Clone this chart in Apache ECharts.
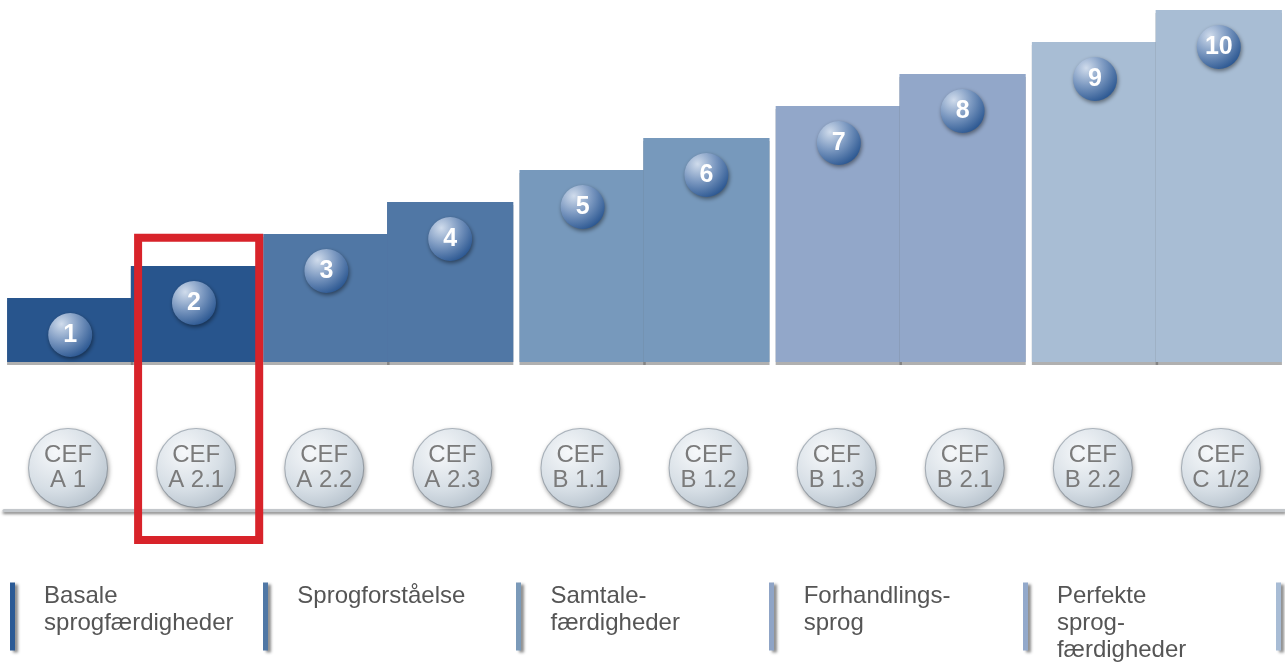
<!DOCTYPE html>
<html>
<head>
<meta charset="utf-8">
<script src="https://cdn.jsdelivr.net/npm/echarts@6/dist/echarts.min.js"></script>
<style>
  html, body { margin: 0; padding: 0; background: #ffffff; }
  #chart { width: 1285px; height: 662px; }
</style>
</head>
<body>
<div id="chart"></div>
<script>
// ---- data ----
const groupLabels = [
  'Basale\nsprogfærdigheder',
  'Sprogforståelse',
  'Samtale-\nfærdigheder',
  'Forhandlings-\nsprog',
  'Perfekte\nsprog-\nfærdigheder'
];
const levelNumbers = ['1', '2', '3', '4', '5', '6', '7', '8', '9', '10'];
const levelHeights = [2, 3, 4, 5, 6, 7, 8, 9, 10, 11];
const cefLabels = ['A 1', 'A 2.1', 'A 2.2', 'A 2.3', 'B 1.1', 'B 1.2', 'B 1.3', 'B 2.1', 'B 2.2', 'C 1/2'];
const highlightLevel = ['A 2.1', 3.88, -5.56]; // [CEF level, upper value, lower value]
const pairColors = ['#28558d', '#5077a5', '#7799bc', '#92a7c9', '#a8bdd4'];

// ---- build series data ----
const firstOfPair = [], secondOfPair = [];
levelHeights.forEach((v, i) => {
  const item = { value: v, itemStyle: { color: pairColors[Math.floor(i / 2)] } };
  (i % 2 === 0 ? firstOfPair : secondOfPair).push(item);
});

const numberCircle = {
  type: 'radial', x: 0.3, y: 0.25, r: 0.9,
  colorStops: [
    { offset: 0, color: '#d0dcec' },
    { offset: 0.45, color: '#7c99c1' },
    { offset: 1, color: '#1b4a88' }
  ]
};
const cefCircle = {
  type: 'radial', x: 0.35, y: 0.3, r: 0.8,
  colorStops: [
    { offset: 0, color: '#f6f8fa' },
    { offset: 0.6, color: '#d6dee5' },
    { offset: 1, color: '#b3bfca' }
  ]
};

function barLabel(offsetIdx) {
  return {
    show: true,
    position: 'insideTop',
    distance: 15,
    formatter: p => levelNumbers[p.dataIndex * 2 + offsetIdx],
    width: 44, height: 44, lineHeight: 44,
    borderRadius: 22,
    backgroundColor: numberCircle,
    shadowColor: 'rgba(0,0,0,0.45)', shadowBlur: 4, shadowOffsetY: 2, shadowOffsetX: 1,
    color: '#ffffff',
    fontFamily: 'Liberation Sans, Arial, sans-serif',
    fontWeight: 'bold',
    fontSize: 25,
    align: 'center'
  };
}

const barItemStyle = {
  shadowColor: 'rgba(80,80,80,0.45)', shadowBlur: 0, shadowOffsetY: 3, shadowOffsetX: 0
};

const chart = echarts.init(document.getElementById('chart'), null, { renderer: 'canvas' });
chart.setOption({
  backgroundColor: '#ffffff',
  animation: false,
  grid: [
    { left: 4, right: 0, top: 10, bottom: 300 },
    { left: 12, right: 7, top: 400, bottom: 76 }
  ],
  xAxis: [
    { type: 'category', gridIndex: 0, position: 'bottom', data: groupLabels, show: false },
    {
      type: 'category', gridIndex: 0, position: 'bottom', offset: 148, data: cefLabels,
      axisLine: {
        show: true,
        lineStyle: { color: '#c3c7cb', width: 3, shadowColor: 'rgba(0,0,0,0.5)', shadowBlur: 3, shadowOffsetY: 2 }
      },
      axisTick: { show: false },
      splitLine: { show: false },
      axisLabel: {
        show: true, inside: true, margin: 3, interval: 0,
        formatter: v => 'CEF\n' + v,
        width: 78, padding: [14, 0, 14, 0], lineHeight: 25,
        borderRadius: 39,
        backgroundColor: cefCircle,
        borderColor: '#b0b9c2', borderWidth: 1,
        shadowColor: 'rgba(0,0,0,0.3)', shadowBlur: 4, shadowOffsetY: 2, shadowOffsetX: 1,
        color: '#7b7b7b',
        fontFamily: 'Liberation Sans Narrow, Arial Narrow, Liberation Sans, sans-serif',
        fontSize: 24,
        align: 'center'
      }
    },
    {
      type: 'category', gridIndex: 1, position: 'bottom', data: groupLabels,
      axisLine: { show: false },
      axisTick: {
        show: true, length: 68, interval: 0,
        lineStyle: {
          width: 5,
          color: {
            type: 'linear', x: 0, y: 0, x2: 1285, y2: 0, global: true,
            colorStops: [
              { offset: 0.009, color: '#2b5a95' },
              { offset: 0.206, color: '#5077a5' },
              { offset: 0.403, color: '#7b9ab9' },
              { offset: 0.601, color: '#8fa4c6' },
              { offset: 0.798, color: '#93a9cb' },
              { offset: 0.995, color: '#a8bcd5' }
            ]
          },
          shadowColor: 'rgba(0,0,0,0.45)', shadowBlur: 3, shadowOffsetX: 3, shadowOffsetY: 2
        }
      },
      splitLine: { show: false },
      axisLabel: {
        show: true, margin: 0, interval: 0,
        formatter: v => v.split('\n').map(s => '{t|' + s + '}').join('\n'),
        width: 220, padding: [0, 0, 0, 31],
        align: 'center',
        rich: {
          t: {
            align: 'left', fontSize: 24, lineHeight: 27, color: '#555555',
            fontFamily: 'Liberation Sans, Arial, sans-serif'
          }
        }
      }
    }
  ],
  yAxis: [
    { type: 'value', gridIndex: 0, min: 0, max: 11, show: false },
    { type: 'value', gridIndex: 1, show: false }
  ],
  series: [
    {
      type: 'bar', xAxisIndex: 0, yAxisIndex: 0,
      data: firstOfPair, barGap: '-2%', barCategoryGap: '2.4%',
      itemStyle: barItemStyle, label: barLabel(0), z: 2
    },
    {
      type: 'bar', xAxisIndex: 0, yAxisIndex: 0,
      data: secondOfPair, barGap: '-2%', barCategoryGap: '2.4%',
      itemStyle: barItemStyle, label: barLabel(1), z: 3
    },
    {
      type: 'custom', xAxisIndex: 1, yAxisIndex: 0, clip: false, z: 10,
      data: [highlightLevel],
      encode: { x: 0, y: [1, 2] },
      renderItem: (params, api) => {
        const x = api.value(0);
        const top = api.coord([x, api.value(1)]);
        const bot = api.coord([x, api.value(2)]);
        const w = api.size([1, 0])[0];
        return {
          type: 'rect',
          shape: { x: top[0] - w / 2 + 6, y: top[1], width: w - 7, height: bot[1] - top[1] },
          style: { fill: null, stroke: '#d8232a', lineWidth: 8 }
        };
      }
    }
  ]
});
</script>
</body>
</html>
